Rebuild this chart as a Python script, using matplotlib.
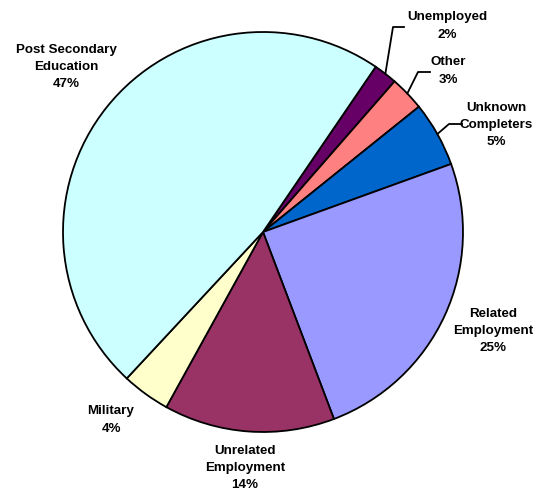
import numpy as np
import matplotlib
matplotlib.use("Agg")
import matplotlib.pyplot as plt

plt.rcParams['font.family'] = ['Liberation Sans', 'DejaVu Sans']

# slices, clockwise from the top-right
labels = ['Unemployed', 'Other', 'Unknown\nCompleters', 'Related\nEmployment',
          'Unrelated\nEmployment', 'Military', 'Post Secondary\nEducation']
pct_labels = [2, 3, 5, 25, 14, 4, 47]
# unrounded shares, as measured off the slice sizes
shares = [1.9, 2.8, 5.25, 24.75, 13.8, 3.9, 47.6]
colors = ['#660066', '#FF8080', '#0066CC', '#9999FF', '#993366', '#FFFFCC', '#CCFFFF']

# label centres (pixels) and leader elbow points (pixels, None = no leader)
label_px = [(447, 26), (448, 71), (496, 125), (493, 331), (245, 468), (111, 420), (66, 67)]
elbow_px = [(393, 27), (418, 72), (449, 124), None, None, None, None]
end_px = [(404, 27), (430, 72), (462, 124), None, None, None, None]

W, H = 548, 492
cx, cy, R = 263, 232, 200
start = 55.7


def to_data(p):
    return ((p[0] - cx) / R, (cy - p[1]) / R)


fig = plt.figure(figsize=(W / 100, H / 100), dpi=100)
ax = fig.add_axes([0, 0, 1, 1])
wedges, _ = ax.pie(shares, colors=colors, startangle=start, counterclock=False,
                   radius=1.0, wedgeprops=dict(edgecolor='black', linewidth=1.3))
ax.set_xlim(-cx / R, (W - cx) / R)
ax.set_ylim(-(H - cy) / R, cy / R)
ax.set_aspect('equal')
ax.axis('off')

total = sum(shares)
angle = start
for i, v in enumerate(shares):
    mid = np.deg2rad(angle - v / total * 360 / 2)
    angle -= v / total * 360
    lx, ly = to_data(label_px[i])
    ax.text(lx, ly, f'{labels[i]}\n{pct_labels[i]}%', ha='center', va='center',
            fontsize=9.6, fontweight='bold', linespacing=1.6)
    if elbow_px[i] is not None:
        ex, ey = to_data(elbow_px[i])
        tx, ty = to_data(end_px[i])
        ax.plot([np.cos(mid), ex, tx], [np.sin(mid), ey, ty], color='black', lw=1.3)

fig.savefig('out.png', dpi=100)
